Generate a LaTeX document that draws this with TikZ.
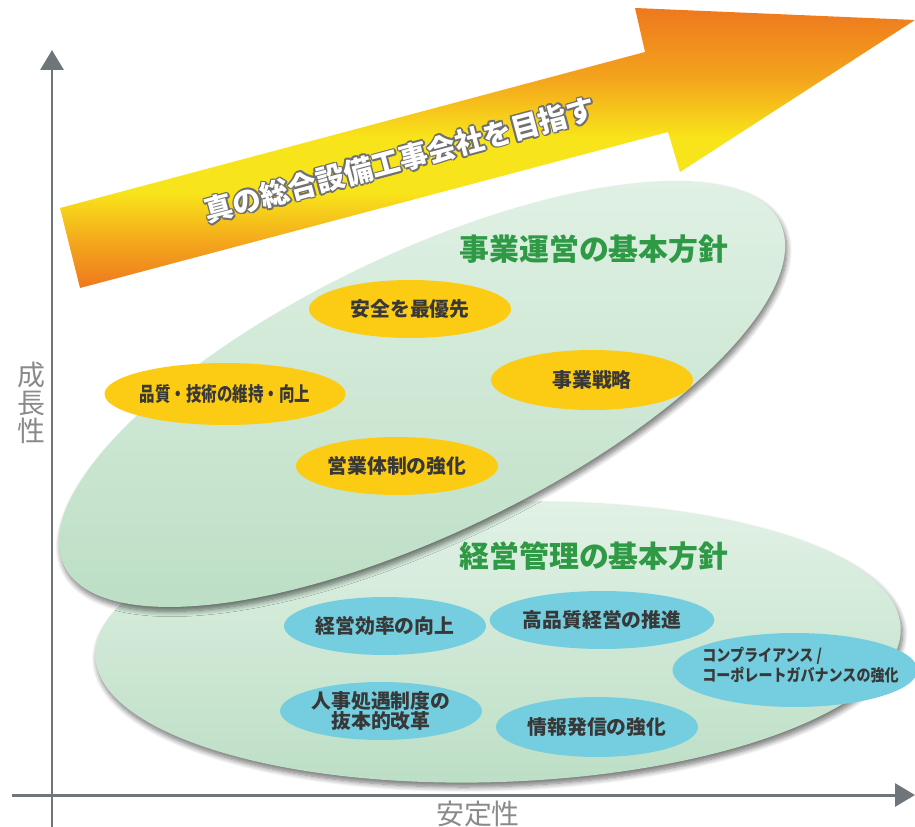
\documentclass[tikz,border=0pt]{standalone}
\usepackage{fontspec}
\setmainfont{Noto Sans CJK JP}
\usetikzlibrary{arrows.meta,shapes.geometric,shadows.blur}
\definecolor{axisgray}{HTML}{6E767B}
\definecolor{labelgray}{HTML}{8A8A8A}
\definecolor{arrorange}{HTML}{EE781E}
\definecolor{arrmid}{HTML}{F4A61C}
\definecolor{arryellow}{HTML}{F8E41A}
\definecolor{blobtop}{HTML}{E2F2E6}
\definecolor{blobbot}{HTML}{BCDEC5}
\definecolor{titlegreen}{HTML}{2F9A45}
\definecolor{sunyellow}{HTML}{FCCB14}
\definecolor{skyblue}{HTML}{74CEE0}
\definecolor{inkgray}{HTML}{383838}
\definecolor{rimgray}{HTML}{707070}
\newcommand\pxunit{0.02cm}
\newcommand\goalfont{\fontsize{16.4pt}{16.4pt}\selectfont\bfseries}
\newcommand\titlefont{\fontsize{17pt}{17pt}\selectfont\bfseries}
\newcommand\itemfont{\fontsize{11.3pt}{11.4pt}\selectfont\bfseries}
\newcommand\smallitemfont{\fontsize{9.4pt}{11.3pt}\selectfont\bfseries}
\newcommand\axisfont{\fontsize{15.9pt}{15.9pt}\selectfont}
\pgfdeclareverticalshading{arrowglow}{100bp}{color(0bp)=(arrorange); color(25bp)=(arrorange); color(33bp)=(arrmid); color(42bp)=(arryellow); color(52bp)=(arryellow); color(62bp)=(arrmid); color(75bp)=(arrorange); color(100bp)=(arrorange)}

\begin{document}
\begin{tikzpicture}[
x=\pxunit,y=-\pxunit,
axisline/.style={line width=1.7pt,color=axisgray,-{Triangle[length=0.4cm,width=0.46cm]}},
axislabel/.style={font=\axisfont,text=labelgray,inner sep=0pt},
blob/.style={ellipse,inner sep=0pt,top color=blobtop,bottom color=blobbot,
  blur shadow={shadow xshift=1pt,shadow yshift=-2.5pt,shadow blur radius=3pt,shadow blur steps=8,shadow opacity=55}},
blobtitle/.style={font=\titlefont,text=titlegreen,inner sep=0pt},
pill/.style={ellipse,inner sep=0pt,minimum width=4.04cm,minimum height=1.16cm,font=\itemfont,text=inkgray},
goldpill/.style={pill,fill=sunyellow},
bluepill/.style={pill,fill=skyblue},
goalrim/.style={font=\goalfont,text=rimgray,rotate=15,inner sep=0pt},
goaltext/.style={font=\goalfont,text=white,rotate=15,inner sep=0pt}
]
\useasboundingbox (0,0) rectangle (915,827);

% axes
\coordinate (ybase) at (52,827);
\coordinate (ytip) at (52,50);
\coordinate (xbase) at (12,795);
\coordinate (xtip) at (915,795);
\draw[axisline] (ybase) -- (ytip);
\draw[axisline] (xbase) -- (xtip);
\node[axislabel,align=center] (growth) at (31,403) {成\\長\\性};
\node[axislabel] (stability) at (478,814) {安定性};

% the two policy fields
\node[blob,rotate=2,minimum width=16.12cm,minimum height=5.6cm] (mgmtblob) at (498,642) {};
\node[blob,rotate=25.6,minimum width=15.88cm,minimum height=5.6cm] (opsblob) at (422,394) {};

% big arrow
\shade[shading=arrowglow] (60,208) -- (645,52) -- (635,8) -- (915,20) -- (680,172) -- (668,132) -- (80,288) -- cycle;
\foreach \a in {0,45,...,315}
{
\node[goalrim,shift={(\a:0.034cm)}] (goalrim\a) at (400,160) {真の総合設備工事会社を目指す};
}
\node[goaltext] (goal) at (400,160) {真の総合設備工事会社を目指す};

% business operation
\node[blobtitle] (opstitle) at (594,249) {事業運営の基本方針};
\node[goldpill] (safety) at (410,309) {安全を最優先};
\node[goldpill,minimum height=1.24cm] (quality) at (225,394) {\scalebox{0.78}[1]{品質・技術の維持・向上}};
\node[goldpill,minimum height=1.2cm] (strategy) at (592,380) {事業戦略};
\node[goldpill] (sales) at (397,466) {営業体制の強化};

% management
\node[blobtitle] (mgmttitle) at (594,556) {経営管理の基本方針};
\node[bluepill] (efficiency) at (385,626) {経営効率の向上};
\node[bluepill] (highquality) at (602,620) {高品質経営の推進};
\node[bluepill,align=center] (personnel) at (381,711) {人事処遇制度の\\抜本的改革};
\node[bluepill,minimum height=1.2cm] (publicity) at (597,727) {情報発信の強化};
\node[bluepill,minimum width=4.9cm,minimum height=1.48cm] (compliance) at (795,670) {};
\node[font=\smallitemfont,text=inkgray,align=left,anchor=west,inner sep=0pt] (compliancetext) at (702,665)
  {\scalebox{0.85}[1]{コンプライアンス /}\\\scalebox{0.85}[1]{コーポレートガバナンスの強化}};
\end{tikzpicture}
\end{document}
